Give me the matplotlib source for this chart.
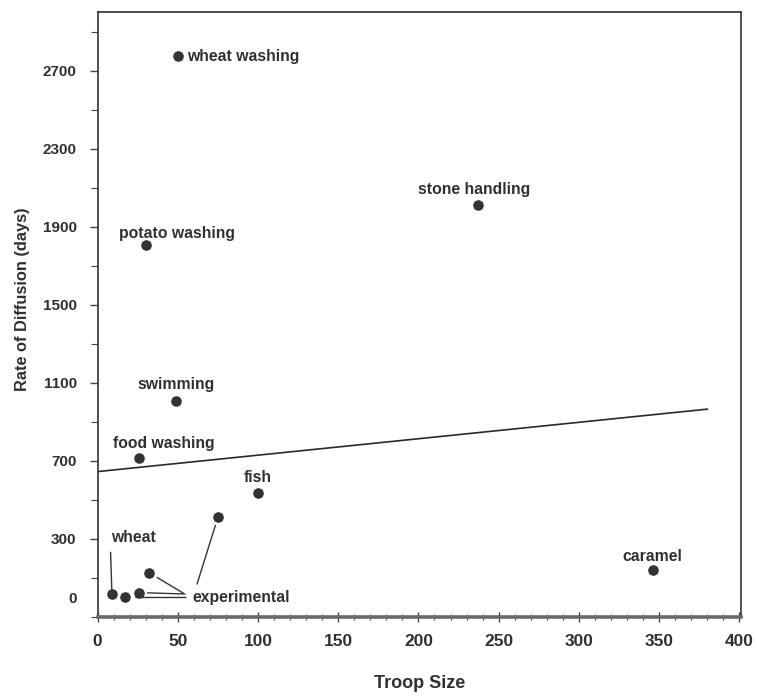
import matplotlib
matplotlib.use('Agg')
import matplotlib.pyplot as plt
from matplotlib.ticker import MultipleLocator, FixedLocator

# ---- data ----
behaviors = ['wheat washing', 'potato washing', 'stone handling', 'swimming',
             'food washing', 'fish', 'experimental', 'wheat',
             'experimental', 'experimental', 'experimental', 'caramel']
troop_size = [50, 30, 237, 49, 26, 100, 75, 9, 17, 26, 32, 346]
diffusion_days = [2772, 1808, 2009, 1006, 715, 536, 410, 18, 0, 25, 128, 143]

fit_x = [0, 380]
fit_y = [645, 965]

x_ticks = [0, 50, 100, 150, 200, 250, 300, 350, 400]
y_ticks = [0, 300, 700, 1100, 1500, 1900, 2300, 2700]
y_minor = [-100, 100, 500, 900, 1300, 1700, 2100, 2500, 2900]

x_title = 'Troop Size'
y_title = 'Rate of Diffusion (days)'
group_label = 'experimental'
group_label_pos = (59, 2)

# ---- style ----
FONT = 'Liberation Sans'
TXT = '#303030'
plt.rcParams['font.family'] = [FONT, 'DejaVu Sans']

fig = plt.figure(figsize=(7.57, 6.98), dpi=100)
ax = fig.add_axes([97.5 / 757, 1 - 617 / 698, (741 - 97.5) / 757, (617 - 12) / 698])
ax.set_xlim(0, 401)
ax.set_ylim(-100, 3000)

# regression line
ax.plot(fit_x, fit_y, color='#2a2a2a', lw=1.2, zorder=2)

# points
ax.scatter(troop_size, diffusion_days, s=58, color='#333333', zorder=3, linewidths=0)

# labels (offset in points, alignment)
label_style = {
    'wheat washing': ((7, 0), 'left', 'center'),
    'potato washing': ((-19, 2.5), 'left', 'bottom'),
    'stone handling': ((-3, 6), 'center', 'bottom'),
    'swimming': ((0, 6.5), 'center', 'bottom'),
    'food washing': ((-19, 5), 'left', 'bottom'),
    'fish': ((0, 5.5), 'center', 'bottom'),
    'caramel': ((0, 4), 'center', 'bottom'),
}
LBL = 11.3
for name, xv, yv in zip(behaviors, troop_size, diffusion_days):
    if name in label_style:
        off, ha, va = label_style[name]
        ax.annotate(name, (xv, yv), xytext=off, textcoords='offset points',
                    ha=ha, va=va, fontsize=LBL, fontweight='bold', color=TXT)

# wheat label with vertical leader
wi = behaviors.index('wheat')
ax.annotate('wheat', (troop_size[wi], diffusion_days[wi]), xytext=(-1, 35),
            textcoords='offset points', ha='left', va='bottom', fontsize=LBL,
            fontweight='bold', color=TXT)
ax.annotate('', (troop_size[wi], diffusion_days[wi]), xytext=(-1, 30),
            textcoords='offset points',
            arrowprops=dict(arrowstyle='-', color='#333333', lw=1.0,
                            shrinkA=0, shrinkB=3))

# experimental group label with leaders
ax.text(group_label_pos[0], group_label_pos[1], group_label, ha='left', va='center',
        fontsize=LBL, fontweight='bold', color=TXT)
leader_offsets = [(-15, -48, 6), (44, 0, 8), (33, -1, 6), (25, -15, 7)]
exp_idx = [i for i, b in enumerate(behaviors) if b == 'experimental']
for i, (dx, dy, sh) in zip(exp_idx, leader_offsets):
    ax.annotate('', (troop_size[i], diffusion_days[i]), xytext=(dx, dy),
                textcoords='offset points',
                arrowprops=dict(arrowstyle='-', color='#333333', lw=1.0,
                                shrinkA=0, shrinkB=sh))

# axes styling
for s in ['left', 'top', 'right']:
    ax.spines[s].set_linewidth(1.2)
    ax.spines[s].set_color('#333333')
ax.spines['bottom'].set_linewidth(2.6)
ax.spines['bottom'].set_color('#6a6a6a')

ax.xaxis.set_major_locator(FixedLocator(x_ticks))
ax.xaxis.set_minor_locator(MultipleLocator(10))
ax.yaxis.set_major_locator(FixedLocator(y_ticks))
ax.yaxis.set_minor_locator(FixedLocator(y_minor))
ax.set_xticklabels([str(v) for v in x_ticks])
ax.set_yticklabels([str(v) for v in y_ticks])

ax.tick_params(axis='x', which='major', direction='inout', length=7, width=1.0,
               color='#444444', pad=9, labelsize=12.5, labelcolor=TXT)
ax.tick_params(axis='x', which='minor', direction='inout', length=4, width=0.8,
               color='#555555')
ax.tick_params(axis='y', which='major', direction='out', length=6, width=1.0,
               color='#444444', pad=9, labelsize=11, labelcolor=TXT)
ax.tick_params(axis='y', which='minor', direction='out', length=5, width=0.8,
               color='#444444')
for lab in ax.get_xticklabels() + ax.get_yticklabels():
    lab.set_fontweight('bold')
ax.yaxis.get_major_ticks()[0].tick1line.set_visible(False)

fig.text(23 / 757, 1 - 299 / 698, y_title, rotation=90, ha='center', va='center',
         fontsize=11.8, fontweight='bold', color=TXT)
fig.text(419.5 / 757, 1 - 683 / 698, x_title, ha='center', va='center',
         fontsize=13, fontweight='bold', color=TXT)

fig.savefig('out.png', dpi=100, facecolor='white')
